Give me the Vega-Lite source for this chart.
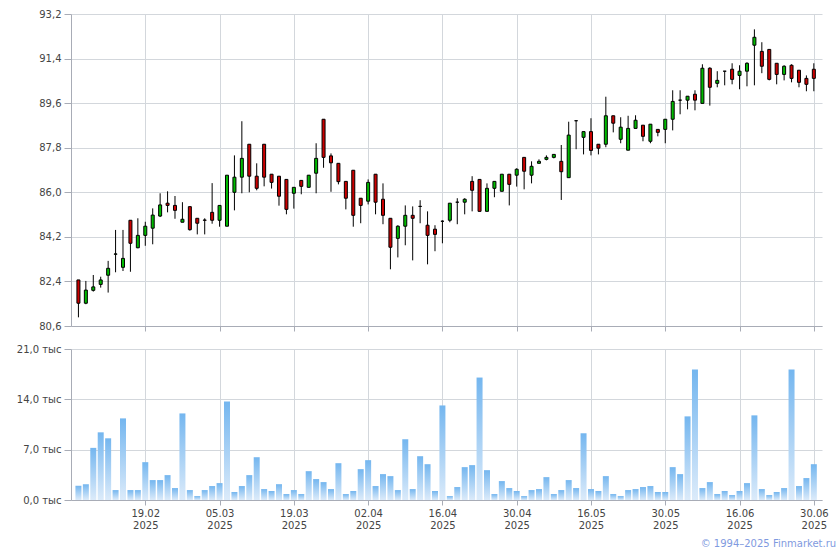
{
 "$schema": "https://vega.github.io/schema/vega-lite/v6.json",
 "padding": {"left": 16, "top": 9, "right": 0, "bottom": 0},
 "background": "white",
 "spacing": 23,
 "bounds": "flush",
 "config": {
  "view": {"stroke": null},
  "font": "DejaVu Sans",
  "axis": {"labelFont": "DejaVu Sans", "labelFontSize": 10, "labelColor": "#444444", "gridColor": "#d3d7dc", "gridWidth": 1, "domainColor": "#a8acb6", "tickColor": "#a8acb6", "title": null}
 },
 "title": {"text": "© 1994–2025 Finmarket.ru", "orient": "bottom", "anchor": "end", "fontSize": 10, "font": "DejaVu Sans", "fontWeight": "normal", "color": "#7f9ae0", "offset": 9, "dx": 8},
 "data": {"values": [
{"i":1,"o":82.46,"h":82.46,"l":80.95,"c":81.52,"v":1980},
{"i":2,"o":81.52,"h":82.42,"l":81.48,"c":82.05,"v":2200},
{"i":3,"o":82.04,"h":82.66,"l":81.99,"c":82.18,"v":7250},
{"i":4,"o":82.28,"h":82.59,"l":82.15,"c":82.46,"v":9410},
{"i":5,"o":82.65,"h":83.23,"l":81.95,"c":82.93,"v":8580},
{"i":6,"o":83.5,"h":84.48,"l":82.77,"c":83.51,"v":1380},
{"i":7,"o":82.97,"h":84.48,"l":82.82,"c":83.33,"v":11350},
{"i":8,"o":84.87,"h":84.87,"l":82.79,"c":83.94,"v":1380},
{"i":9,"o":83.76,"h":84.95,"l":83.74,"c":84.26,"v":1380},
{"i":10,"o":84.26,"h":84.81,"l":83.84,"c":84.63,"v":5260},
{"i":11,"o":84.55,"h":85.35,"l":83.9,"c":85.08,"v":2770},
{"i":12,"o":85.04,"h":85.96,"l":85.0,"c":85.49,"v":2770},
{"i":13,"o":85.56,"h":86.04,"l":85.19,"c":85.47,"v":3460},
{"i":14,"o":85.47,"h":85.85,"l":84.93,"c":85.27,"v":1660},
{"i":15,"o":84.79,"h":85.6,"l":84.79,"c":84.91,"v":12040},
{"i":16,"o":85.42,"h":85.42,"l":84.45,"c":84.49,"v":1380},
{"i":17,"o":84.95,"h":84.95,"l":84.3,"c":84.75,"v":550},
{"i":18,"o":84.88,"h":84.95,"l":84.3,"c":84.87,"v":1380},
{"i":19,"o":85.19,"h":86.37,"l":84.73,"c":84.87,"v":1940},
{"i":20,"o":84.87,"h":85.47,"l":84.61,"c":85.47,"v":2350},
{"i":21,"o":84.63,"h":86.69,"l":84.63,"c":86.69,"v":13700},
{"i":22,"o":86.0,"h":87.49,"l":85.27,"c":86.61,"v":1110},
{"i":23,"o":86.61,"h":88.87,"l":85.96,"c":87.37,"v":1940},
{"i":24,"o":87.94,"h":87.94,"l":86.0,"c":86.65,"v":3460},
{"i":25,"o":86.65,"h":87.17,"l":86.08,"c":86.16,"v":5950},
{"i":26,"o":87.94,"h":87.94,"l":86.24,"c":86.61,"v":1520},
{"i":27,"o":86.73,"h":86.73,"l":86.15,"c":86.4,"v":1250},
{"i":28,"o":86.65,"h":86.65,"l":85.46,"c":85.84,"v":2200},
{"i":29,"o":86.52,"h":86.52,"l":85.11,"c":85.31,"v":830},
{"i":30,"o":85.96,"h":86.2,"l":85.34,"c":86.2,"v":1380},
{"i":31,"o":86.48,"h":86.48,"l":85.92,"c":86.24,"v":830},
{"i":32,"o":86.2,"h":86.69,"l":86.2,"c":86.69,"v":4010},
{"i":33,"o":86.77,"h":87.98,"l":85.96,"c":87.37,"v":2910},
{"i":34,"o":88.95,"h":88.95,"l":86.99,"c":87.41,"v":2490},
{"i":35,"o":87.47,"h":87.57,"l":86.02,"c":87.19,"v":1520},
{"i":36,"o":87.17,"h":87.17,"l":86.32,"c":86.43,"v":5120},
{"i":37,"o":86.44,"h":86.44,"l":85.31,"c":85.76,"v":830},
{"i":38,"o":86.89,"h":86.89,"l":84.61,"c":85.07,"v":1250},
{"i":39,"o":85.76,"h":85.76,"l":84.75,"c":85.47,"v":4290},
{"i":40,"o":85.64,"h":86.52,"l":85.51,"c":86.4,"v":5540},
{"i":41,"o":86.73,"h":86.73,"l":85.11,"c":85.6,"v":1940},
{"i":42,"o":85.72,"h":86.36,"l":84.71,"c":85.07,"v":3600},
{"i":43,"o":84.95,"h":84.95,"l":82.89,"c":83.78,"v":3320},
{"i":44,"o":84.14,"h":84.67,"l":83.37,"c":84.63,"v":1380},
{"i":45,"o":84.63,"h":85.47,"l":83.86,"c":85.07,"v":8450},
{"i":46,"o":85.07,"h":85.43,"l":83.25,"c":84.95,"v":1520},
{"i":47,"o":85.43,"h":85.68,"l":84.75,"c":85.43,"v":6090},
{"i":48,"o":84.67,"h":85.23,"l":83.09,"c":84.26,"v":4980},
{"i":49,"o":84.51,"h":84.67,"l":83.62,"c":84.3,"v":1250},
{"i":50,"o":84.83,"h":84.87,"l":83.94,"c":84.83,"v":13150},
{"i":51,"o":84.87,"h":85.56,"l":84.79,"c":85.56,"v":550},
{"i":52,"o":85.6,"h":85.76,"l":84.71,"c":85.6,"v":1800},
{"i":53,"o":85.6,"h":85.76,"l":85.11,"c":85.72,"v":4570},
{"i":54,"o":86.44,"h":86.65,"l":85.23,"c":86.08,"v":4850},
{"i":55,"o":86.52,"h":86.52,"l":85.23,"c":85.23,"v":17030},
{"i":56,"o":85.23,"h":86.36,"l":85.23,"c":86.16,"v":4150},
{"i":57,"o":86.16,"h":86.44,"l":85.8,"c":86.44,"v":830},
{"i":58,"o":86.04,"h":86.73,"l":86.04,"c":86.73,"v":2630},
{"i":59,"o":86.73,"h":86.73,"l":85.47,"c":86.32,"v":1660},
{"i":60,"o":86.69,"h":86.97,"l":86.23,"c":86.93,"v":1250},
{"i":61,"o":87.41,"h":87.41,"l":86.12,"c":86.85,"v":550},
{"i":62,"o":86.69,"h":87.25,"l":86.36,"c":87.05,"v":1380},
{"i":63,"o":87.17,"h":87.33,"l":87.17,"c":87.25,"v":1520},
{"i":64,"o":87.33,"h":87.49,"l":87.29,"c":87.41,"v":3180},
{"i":65,"o":87.41,"h":87.53,"l":87.37,"c":87.53,"v":830},
{"i":66,"o":87.25,"h":87.91,"l":85.69,"c":86.83,"v":1380},
{"i":67,"o":86.59,"h":88.85,"l":86.59,"c":88.31,"v":2770},
{"i":68,"o":88.89,"h":88.89,"l":87.74,"c":88.89,"v":1660},
{"i":69,"o":88.22,"h":88.45,"l":87.53,"c":88.45,"v":9280},
{"i":70,"o":88.45,"h":88.99,"l":87.49,"c":87.69,"v":1520},
{"i":71,"o":87.94,"h":87.94,"l":87.53,"c":87.78,"v":1250},
{"i":72,"o":87.94,"h":89.86,"l":87.82,"c":89.09,"v":3320},
{"i":73,"o":89.09,"h":89.09,"l":88.42,"c":88.79,"v":830},
{"i":74,"o":88.14,"h":89.03,"l":87.98,"c":88.63,"v":550},
{"i":75,"o":87.7,"h":89.09,"l":87.7,"c":88.58,"v":1380},
{"i":76,"o":88.58,"h":89.11,"l":88.58,"c":88.91,"v":1520},
{"i":77,"o":88.71,"h":88.71,"l":88.06,"c":88.26,"v":1800},
{"i":78,"o":88.06,"h":88.75,"l":87.98,"c":88.75,"v":1940},
{"i":79,"o":88.54,"h":88.54,"l":88.26,"c":88.42,"v":1110},
{"i":80,"o":88.54,"h":88.95,"l":87.98,"c":88.95,"v":1110},
{"i":81,"o":88.95,"h":90.12,"l":88.5,"c":89.67,"v":4570},
{"i":82,"o":89.72,"h":90.12,"l":89.15,"c":89.72,"v":3600},
{"i":83,"o":89.72,"h":89.88,"l":89.35,"c":89.88,"v":11630},
{"i":84,"o":89.96,"h":90.12,"l":89.31,"c":89.72,"v":18140},
{"i":85,"o":89.59,"h":91.17,"l":89.59,"c":91.01,"v":1660},
{"i":86,"o":91.01,"h":91.05,"l":89.5,"c":90.24,"v":2490},
{"i":87,"o":90.4,"h":90.89,"l":90.24,"c":90.52,"v":830},
{"i":88,"o":90.89,"h":90.89,"l":90.32,"c":90.89,"v":1250},
{"i":89,"o":90.97,"h":91.21,"l":90.36,"c":90.56,"v":690},
{"i":90,"o":90.72,"h":91.13,"l":90.16,"c":90.89,"v":1250},
{"i":91,"o":90.89,"h":91.25,"l":90.28,"c":91.21,"v":2350},
{"i":92,"o":91.94,"h":92.58,"l":90.32,"c":92.26,"v":11770},
{"i":93,"o":91.69,"h":92.06,"l":90.81,"c":91.09,"v":1520},
{"i":94,"o":91.77,"h":91.77,"l":90.52,"c":90.56,"v":690},
{"i":95,"o":91.21,"h":91.21,"l":90.36,"c":90.76,"v":1110},
{"i":96,"o":90.76,"h":91.13,"l":90.52,"c":91.09,"v":1660},
{"i":97,"o":91.13,"h":91.17,"l":90.44,"c":90.6,"v":18140},
{"i":98,"o":90.93,"h":90.93,"l":90.24,"c":90.44,"v":1940},
{"i":99,"o":90.6,"h":90.72,"l":90.08,"c":90.36,"v":3050},
{"i":100,"o":90.97,"h":91.21,"l":90.08,"c":90.6,"v":4980}
 ]},
 "vconcat": [
  {
   "width": 751,
   "height": 312,
   "layer": [
    {
     "mark": {"type": "rule", "color": "#000000", "strokeWidth": 1},
     "encoding": {
      "x": {"field": "i", "type": "quantitative", "scale": {"domain": [0, 101.1], "nice": false, "zero": false, "padding": 0},
            "axis": {"values": [10,20,30,40,50,60,70,80,90,100], "labels": false, "grid": true, "tickSize": 5, "domain": true}},
      "y": {"field": "l", "type": "quantitative", "scale": {"domain": [80.6, 93.2], "nice": false, "zero": false, "padding": 0},
            "axis": {"values": [80.6,82.4,84.2,86.0,87.8,89.6,91.4,93.2], "labelExpr": "replace(format(datum.value,'.1f'),'.',',')", "tickSize": 7, "labelPadding": 3, "grid": true}},
      "y2": {"field": "h"}
     }
    },
    {
     "mark": {"type": "bar", "orient": "vertical", "stroke": "#000000", "strokeWidth": 1, "size": 3},
     "encoding": {
      "x": {"field": "i", "type": "quantitative"},
      "y": {"field": "o", "type": "quantitative"},
      "y2": {"field": "c"},
      "fill": {"condition": {"test": "datum.c >= datum.o", "value": "#00bb00"}, "value": "#cc0000"}
     }
    }
   ]
  },
  {
   "width": 751,
   "height": 151,
   "mark": {"type": "bar", "orient": "vertical", "size": 6,
            "color": {"gradient": "linear", "x1": 0, "y1": 0, "x2": 0, "y2": 1,
                      "stops": [{"offset": 0, "color": "#74b6ef"}, {"offset": 1, "color": "#dcebfa"}]}},
   "encoding": {
    "x": {"field": "i", "type": "quantitative", "scale": {"domain": [0, 101.1], "nice": false, "zero": false, "padding": 0},
          "axis": {"values": [10,20,30,40,50,60,70,80,90,100], "grid": true, "tickSize": 5, "labelPadding": 3, "labelLineHeight": 12, "labelAngle": 0,
                   "labelExpr": "[['19.02','2025'],['05.03','2025'],['19.03','2025'],['02.04','2025'],['16.04','2025'],['30.04','2025'],['16.05','2025'],['30.05','2025'],['16.06','2025'],['30.06','2025']][round(datum.value/10)-1]"}},
    "y": {"field": "v", "type": "quantitative", "scale": {"domain": [0, 21000], "nice": false, "padding": 0},
          "axis": {"values": [0, 7000, 14000, 21000], "labelExpr": "replace(format(datum.value/1000,'.1f'),'.',',') + ' тыс'", "tickSize": 7, "labelPadding": 3, "grid": true}}
   }
  }
 ]
}
